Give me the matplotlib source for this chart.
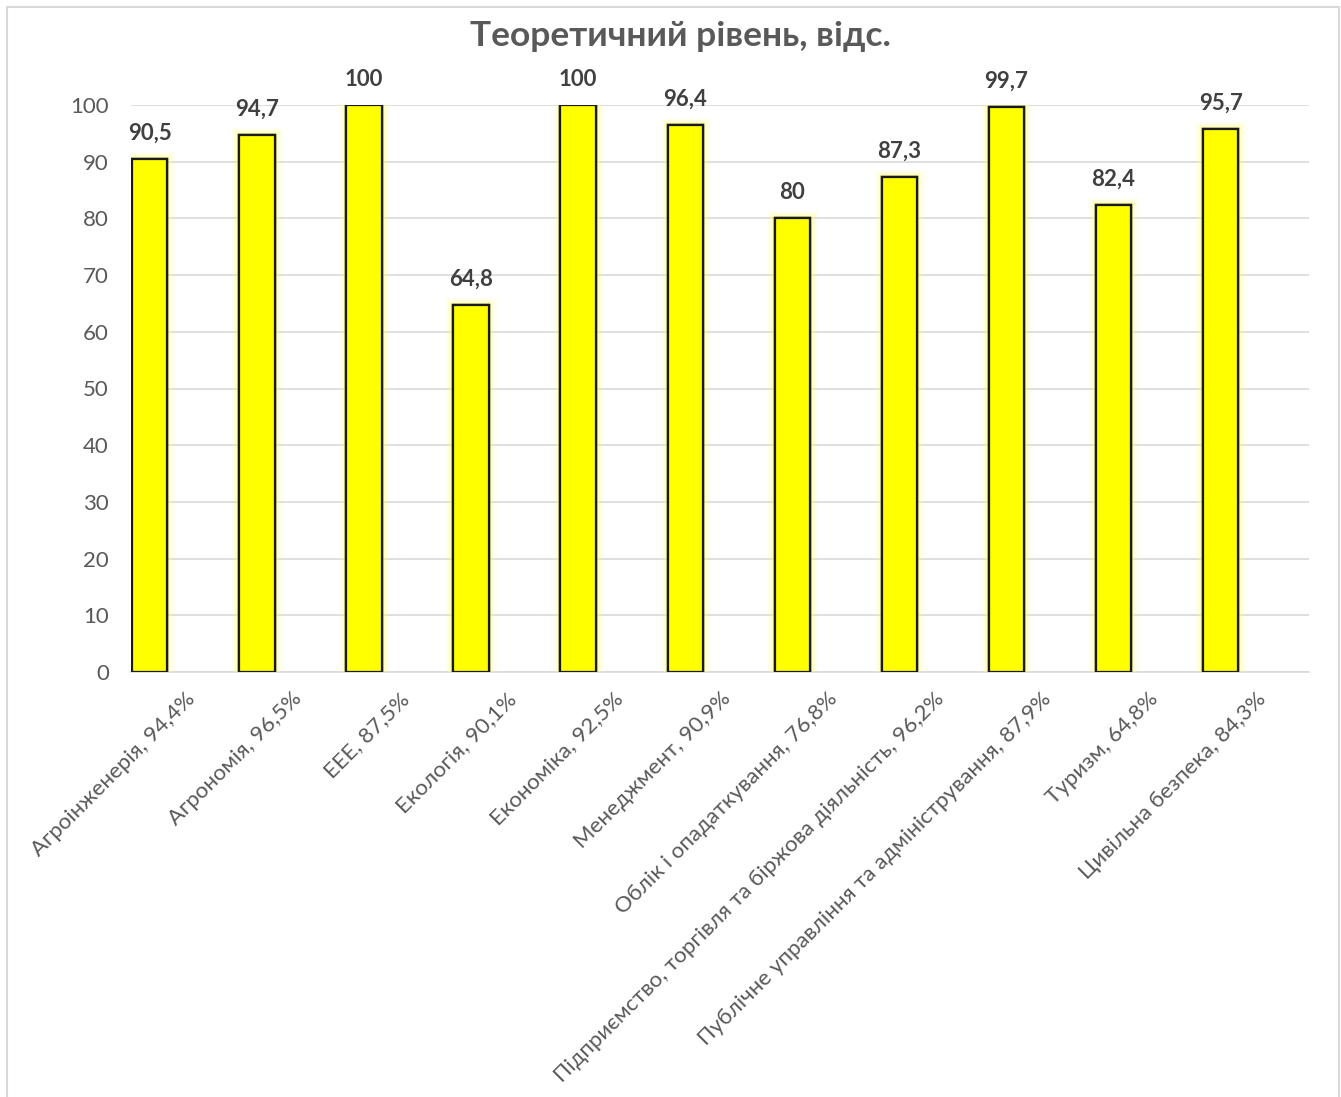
import matplotlib
matplotlib.use("Agg")
import matplotlib.pyplot as plt
import matplotlib.patheffects as pe
from matplotlib.patches import Rectangle

categories = ["Агроінженерія, 94,4%", "Агрономія, 96,5%", "ЕЕЕ, 87,5%", "Екологія, 90,1%",
              "Економіка, 92,5%", "Менеджмент, 90,9%", "Облік і опадаткування, 76,8%",
              "Підприємство, торгівля та біржова діяльність, 96,2%",
              "Публічне управління та адміністрування, 87,9%", "Туризм, 64,8%",
              "Цивільна безпека, 84,3%"]
values = [90.5, 94.7, 100, 64.8, 100, 96.4, 80, 87.3, 99.7, 82.4, 95.7]
value_labels = ["90,5", "94,7", "100", "64,8", "100", "96,4", "80", "87,3", "99,7", "82,4", "95,7"]
yticks = [0, 10, 20, 30, 40, 50, 60, 70, 80, 90, 100]
title = "Теоретичний рівень, відс."

W, H = 1341, 1097
fig = plt.figure(figsize=(W / 100, H / 100), dpi=100)
plt.rcParams['font.family'] = ['Lato', 'DejaVu Sans']

# outer border
fig.patches.append(Rectangle((7 / W, -0.01), (1339 - 7) / W, 1.01 - 7 / H,
                             transform=fig.transFigure, fill=False,
                             edgecolor="#d9d9d9", linewidth=1.5))

left, right = 131 / W, 1309 / W
bottom, top = 1 - 672 / H, 1 - 105 / H
ax = fig.add_axes([left, bottom, right - left, top - bottom])

x = list(range(len(categories)))
bw = 0.33
bar_x = [xi - 0.5 + 0.01 for xi in x]
bars = ax.bar(bar_x, values, width=bw, align="edge", color="#ffff00", edgecolor="#1a1a1a",
              linewidth=1.6, zorder=3)
for b in bars:
    b.set_path_effects([pe.withStroke(linewidth=11, foreground=(1, 1, 0.55, 0.12)),
                        pe.withStroke(linewidth=7, foreground=(1, 1, 0.5, 0.2)),
                        pe.withStroke(linewidth=4, foreground=(1, 1, 0.4, 0.3)),
                        pe.Normal()])

for bx, v, lab in zip(bar_x, values, value_labels):
    ax.annotate(lab, (bx + bw / 2, v), xytext=(0, 11), textcoords="offset points",
                ha="center", va="bottom", fontsize=16, fontweight="bold", color="#404040")

ax.set_xlim(-0.5, len(categories) - 0.5)
ax.set_ylim(0, 100)
ax.set_yticks(yticks)
ax.set_yticklabels([str(t) for t in yticks], fontsize=16, color="#595959")
ax.set_xticks(x)
ax.set_xticklabels(categories, rotation=45, ha="right", rotation_mode="anchor",
                   fontsize=16, color="#595959")
ax.tick_params(axis="both", length=0)
ax.tick_params(axis="y", pad=16)
ax.tick_params(axis="x", pad=12)
ax.grid(axis="y", color="#d9d9d9", linewidth=1.2, zorder=0)
ax.set_axisbelow(True)
for s in ["top", "right", "left"]:
    ax.spines[s].set_visible(False)
ax.spines["bottom"].set_color("#d9d9d9")
ax.spines["bottom"].set_linewidth(1.2)

fig.text(680 / W, 1 - 36 / H, title, ha="center", va="center",
         fontsize=25.5, fontweight="bold", color="#595959")

fig.savefig("out.png", dpi=100, facecolor="white")
